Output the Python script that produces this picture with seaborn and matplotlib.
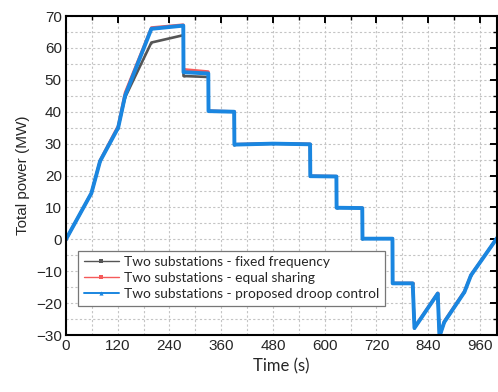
import matplotlib
matplotlib.use("Agg")
import matplotlib.pyplot as plt
from matplotlib.ticker import MultipleLocator
import pandas as pd
import seaborn as sns

# time points (s), shared by all three series
time_s = [0, 59, 79, 121, 137, 198, 272, 272.5, 330, 330.5, 390, 390.5, 480, 566,
          566.5, 627, 627.5, 687, 687.5, 757, 757.5, 804, 808, 862, 866, 877, 924, 939, 1000]
fixed_freq = [0, 14.5, 24.5, 35, 44.5, 61.7, 64.0, 51.2, 50.9, 40.2, 40.0, 29.7, 30.0, 29.8,
              19.8, 19.7, 9.9, 9.8, 0.2, 0.2, -13.8, -13.8, -27.8, -17.0, -30.5, -26.0, -16.5, -11.3, 0.5]
equal_share = [0, 14.6, 24.8, 35.6, 46.0, 66.4, 67.3, 53.3, 52.6, 40.3, 40.1, 29.8, 30.1, 29.9,
               19.9, 19.8, 10.0, 9.9, 0.3, 0.3, -13.7, -13.7, -27.5, -16.8, -30.5, -25.7, -16.2, -11.1, 0.5]
droop_ctrl = [0, 14.5, 24.5, 35, 45, 66.0, 67.0, 52.4, 52.0, 40.2, 40.0, 29.7, 30.0, 29.8,
              19.8, 19.7, 9.9, 9.8, 0.2, 0.2, -13.8, -13.8, -27.8, -17.0, -30.5, -26.0, -16.5, -11.3, 0.5]

labels = ["Two substations - fixed frequency",
          "Two substations - equal sharing",
          "Two substations - proposed droop control"]
colors = ["#555555", "#f55a5a", "#1a86e0"]

sns.set_theme(style="white")
plt.rcParams["font.family"] = ["Liberation Sans", "DejaVu Sans"]

fig = plt.figure(figsize=(4.98, 3.92), dpi=100)
ax = fig.add_axes([0.1325, 0.1454, 0.866, 0.8136])

series = [fixed_freq, equal_share, droop_ctrl]
styles = [dict(lw=1.9, marker="s"), dict(lw=1.9, marker="s"), dict(lw=2.8, marker="^")]
for vals, lab, col, st in zip(series, labels, colors, styles):
    df = pd.DataFrame({"t": time_s, "p": vals})
    sns.lineplot(data=df, x="t", y="p", sort=False, estimator=None, color=col, label=lab,
                 linewidth=st["lw"], marker=st["marker"], markersize=1.4,
                 markeredgewidth=0, ax=ax)

ax.set_xlim(0, 1000)
ax.set_ylim(-30, 70)
ax.xaxis.set_major_locator(MultipleLocator(120))
ax.xaxis.set_minor_locator(MultipleLocator(60))
ax.yaxis.set_major_locator(MultipleLocator(10))
ax.yaxis.set_minor_locator(MultipleLocator(5))
ax.grid(True, which="both", color="#c4c4c4", linestyle=(0, (2, 2)), linewidth=0.8)
ax.tick_params(which="both", direction="in", top=True, right=True, color="black")
ax.tick_params(which="major", length=5, width=1.4, labelsize=11, pad=3)
ax.tick_params(which="minor", length=3, width=1.0)
for s in ax.spines.values():
    s.set_color("black")
    s.set_linewidth(1.5)

ax.set_xlabel("Time (s)", fontsize=12, family=["Lato", "DejaVu Sans"], labelpad=4)
ax.set_ylabel("Total power (MW)", fontsize=11, labelpad=4)

leg = ax.legend(loc="lower left", bbox_to_anchor=(0.012, 0.07), fancybox=False,
                edgecolor="#777777", framealpha=1, borderpad=0.4, labelspacing=0.3,
                handlelength=2.6, handletextpad=0.35,
                prop={"family": ["Lato", "DejaVu Sans"], "size": 9.9})
leg.get_frame().set_linewidth(0.9)
for h, w in zip(leg.get_lines(), [1.0, 1.0, 1.4]):
    h.set_linewidth(w)
    h.set_markersize(3)

fig.savefig("out.png", dpi=100)
